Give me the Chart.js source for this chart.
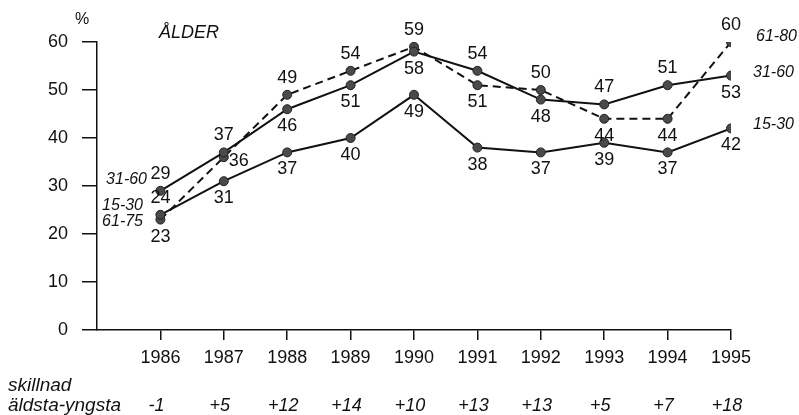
<!DOCTYPE html>
<html>
<head>
<meta charset="utf-8">
<script src="https://cdn.jsdelivr.net/npm/chart.js@4"></script>
<style>
  html, body { margin: 0; padding: 0; background: #fff; }
  #wrap { width: 799px; height: 415px; position: relative; }
</style>
</head>
<body>
<div id="wrap"><canvas id="myChart" width="799" height="415"></canvas></div>
<script>
// Data
var years = [1986, 1987, 1988, 1989, 1990, 1991, 1992, 1993, 1994, 1995];
var age1530 = [24, 31, 37, 40, 49, 38, 37, 39, 37, 42];
var age3160 = [29, 37, 46, 51, 58, 54, 48, 47, 51, 53];
var age6180 = [23, 36, 49, 54, 59, 51, 50, 44, 44, 60];
var diffLabels = ['-1', '+5', '+12', '+14', '+10', '+13', '+13', '+5', '+7', '+18'];
var yTicks = [0, 10, 20, 30, 40, 50, 60];

// where each value label sits: a = above, b = below, r = right
var pos1530 = ['a', 'b', 'b', 'b', 'b', 'b', 'b', 'b', 'b', 'b'];
var pos3160 = ['a', 'a', 'b', 'b', 'b', 'a', 'b', 'a', 'a', 'b'];
var pos6180 = ['b', 'r', 'a', 'a', 'a', 'b', 'a', 'b', 'b', 'a'];

var FONT = '"Liberation Sans", Arial, Helvetica, sans-serif';

function toXY(vals) {
    return vals.map(function(v, i) { return { x: years[i], y: v }; });
}

// value labels next to the points
var pointLabels = {
    id: 'pointLabels',
    afterDatasetsDraw: function(chart) {
        var ctx = chart.ctx;
        ctx.save();
        ctx.fillStyle = '#111';
        ctx.font = '18px ' + FONT;
        ctx.textAlign = 'center';
        ctx.textBaseline = 'middle';
        chart.data.datasets.forEach(function(ds, di) {
            var meta = chart.getDatasetMeta(di);
            meta.data.forEach(function(pt, i) {
                var p = ds.labelPos[i];
                var x = pt.x, y = pt.y;
                if (p === 'a') y -= 17;
                else if (p === 'b') y += 17;
                else { x += 15; y += 4; }
                ctx.fillText(String(ds.data[i].y), x, y);
            });
        });
        ctx.restore();
    }
};

// titles, series names and the bottom row
var extraText = {
    id: 'extraText',
    afterDraw: function(chart) {
        var ctx = chart.ctx;
        var xs = chart.scales.x;
        ctx.save();
        ctx.fillStyle = '#111';
        ctx.textBaseline = 'middle';

        ctx.font = '16px ' + FONT;
        ctx.textAlign = 'center';
        ctx.fillText('%', 82, 20);

        ctx.font = 'italic 18px ' + FONT;
        ctx.textAlign = 'left';
        ctx.fillText('ÅLDER', 159, 33);

        // series names, right side
        ctx.font = 'italic 16px ' + FONT;
        ctx.fillText('61-80', 756, 37);
        ctx.fillText('31-60', 753, 73);
        ctx.fillText('15-30', 753, 125);

        // series names, left side
        ctx.textAlign = 'right';
        ctx.fillText('31-60', 147, 180);
        ctx.fillText('15-30', 143, 206);
        ctx.fillText('61-75', 143, 222);

        // bottom rows
        ctx.textAlign = 'left';
        ctx.font = 'italic 19px ' + FONT;
        ctx.fillText('skillnad', 8, 386);
        ctx.fillText('äldsta-yngsta', 8, 406);

        ctx.textAlign = 'center';
        ctx.font = 'italic 18px ' + FONT;
        diffLabels.forEach(function(t, i) {
            ctx.fillText(t, xs.getPixelForValue(years[i]) - 4, 406);
        });
        ctx.restore();
    }
};

var lineStyle = {
    borderColor: '#111',
    borderWidth: 2,
    pointRadius: 4.5,
    pointBackgroundColor: '#4a4a4a',
    pointBorderColor: '#222',
    pointBorderWidth: 1,
    tension: 0,
    fill: false
};

var ctx = document.getElementById('myChart');
var myChart = new Chart(ctx, {
    type: 'line',
    data: {
        datasets: [
            Object.assign({ label: '15-30', data: toXY(age1530), labelPos: pos1530 }, lineStyle),
            Object.assign({ label: '31-60', data: toXY(age3160), labelPos: pos3160 }, lineStyle),
            Object.assign({ label: '61-80', data: toXY(age6180), labelPos: pos6180, borderDash: [8, 5] }, lineStyle)
        ]
    },
    options: {
        responsive: false,
        animation: false,
        events: [],
        layout: {
            padding: { left: 0, right: 68, top: 42, bottom: 0 }
        },
        plugins: {
            legend: { display: false },
            tooltip: { enabled: false }
        },
        scales: {
            x: {
                type: 'linear',
                min: 1985,
                max: 1995,
                afterBuildTicks: function(axis) {
                    axis.ticks = years.map(function(v) { return { value: v }; });
                },
                afterFit: function(axis) { axis.height = 85; },
                border: { display: true, color: '#111', width: 1.5 },
                grid: { display: true, drawOnChartArea: false, drawTicks: true, tickLength: 10, color: '#111', lineWidth: 1.5 },
                ticks: {
                    color: '#111',
                    font: { family: FONT, size: 18 },
                    padding: 7,
                    maxRotation: 0,
                    callback: function(v) { return String(v); }
                }
            },
            y: {
                min: 0,
                max: 60,
                afterBuildTicks: function(axis) {
                    axis.ticks = yTicks.map(function(v) { return { value: v }; });
                },
                afterFit: function(axis) { axis.width = 97; },
                border: { display: true, color: '#111', width: 1.5 },
                grid: { display: true, drawOnChartArea: false, drawTicks: true, tickLength: 15, color: '#111', lineWidth: 1.5 },
                ticks: {
                    color: '#111',
                    font: { family: FONT, size: 18 },
                    padding: 14
                }
            }
        }
    },
    plugins: [pointLabels, extraText]
});
</script>
</body>
</html>
